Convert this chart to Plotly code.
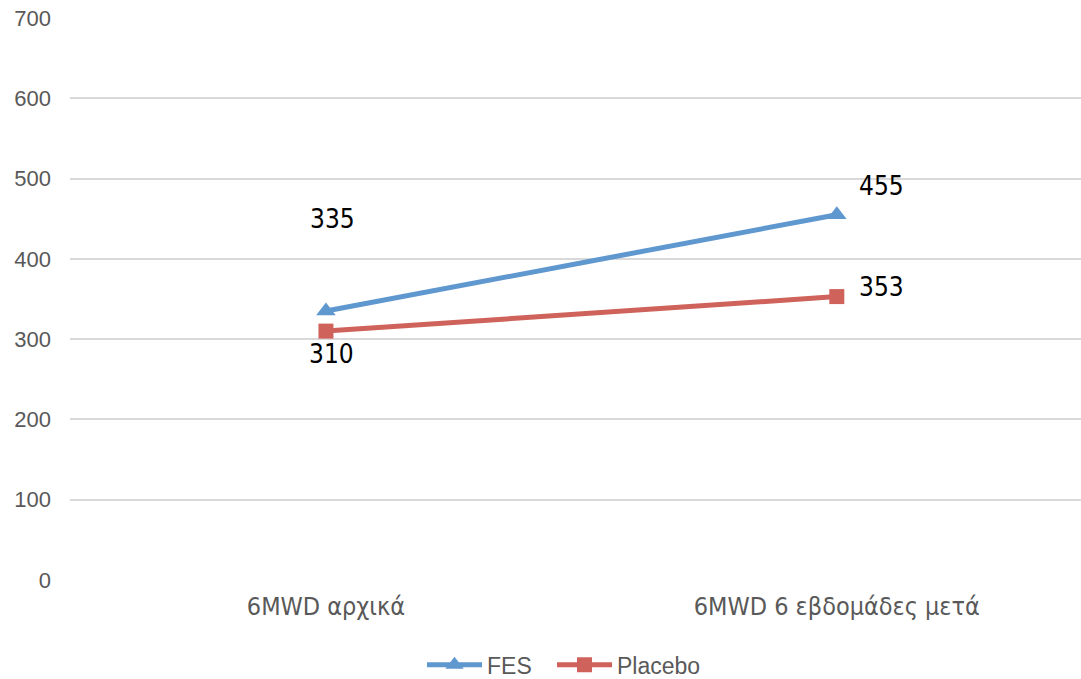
import plotly.graph_objects as go

categories = ["6MWD αρχικά", "6MWD 6 εβδομάδες μετά"]
fes_values = [335, 455]
placebo_values = [310, 353]
y_ticks = [0, 100, 200, 300, 400, 500, 600, 700]

BLUE = "#5F97CF"
RED = "#CF625A"
GREY = "#595959"
NARROW = "DejaVu Sans Condensed, Liberation Sans Narrow, Liberation Sans, Arial"

fig = go.Figure()
fig.add_trace(go.Scatter(
    x=categories, y=fes_values, name="FES", mode="lines+markers",
    line=dict(color=BLUE, width=5),
    marker=dict(symbol="triangle-up", size=17, color=BLUE),
    legend="legend",
))
fig.add_trace(go.Scatter(
    x=categories, y=placebo_values, name="Placebo", mode="lines+markers",
    line=dict(color=RED, width=5),
    marker=dict(symbol="square", size=15, color=RED),
    legend="legend2",
))

# value labels, offset from their points
label_font = dict(family=NARROW, size=26, color="#000000")
offsets = {
    ("FES", 0): (7, 92),
    ("Placebo", 0): (6, -23),
    ("FES", 1): (45, 29),
    ("Placebo", 1): (45, 10),
}
for name, vals in (("FES", fes_values), ("Placebo", placebo_values)):
    for i, v in enumerate(vals):
        dx, dy = offsets[(name, i)]
        fig.add_annotation(
            x=categories[i], y=v, text=str(v), showarrow=False,
            xshift=dx, yshift=dy, font=label_font,
        )

legend_style = dict(
    orientation="h", xanchor="left", xref="container",
    y=-0.151, yanchor="middle", yref="paper",
    font=dict(family="Liberation Sans, Arial", size=23, color=GREY),
    itemwidth=55, bgcolor="rgba(0,0,0,0)",
)

fig.update_layout(
    width=1081, height=679,
    margin=dict(l=70, r=0, t=18, b=99, autoexpand=False),
    paper_bgcolor="white", plot_bgcolor="white",
    font=dict(family="Liberation Sans, Arial", size=20, color=GREY),
    showlegend=True,
    legend=dict(x=422 / 1081, **legend_style),
    legend2=dict(x=552 / 1081, **legend_style),
    xaxis=dict(
        type="category", range=[-0.501, 1.478], showgrid=False, zeroline=False,
        tickfont=dict(family=NARROW, size=25, color=GREY),
        ticks="", ticklabelstandoff=9,
    ),
    yaxis=dict(
        range=[0, 700], tickvals=y_ticks, showgrid=True, gridcolor="#D9D9D9", gridwidth=2,
        zeroline=False, tickfont=dict(size=22, color=GREY), ticks="",
        ticklabelstandoff=18,
    ),
)

fig.write_html("out.html")
